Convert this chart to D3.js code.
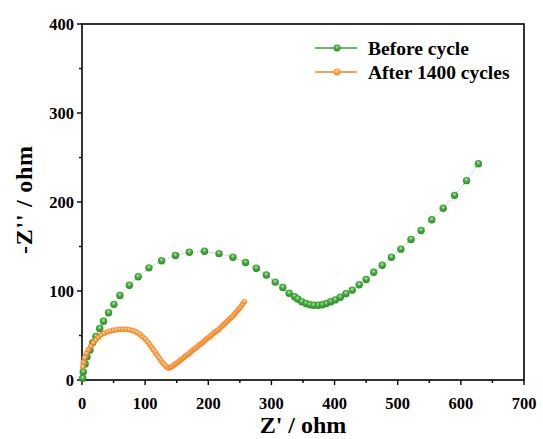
<!DOCTYPE html>
<html><head><meta charset="utf-8">
<script src="https://cdn.jsdelivr.net/npm/d3@7"></script>
<style>body{margin:0;background:#fff}svg{display:block}</style>
</head><body>
<svg id="chart" width="543" height="439"></svg>
<script>
// ---- data ----
const seriesNames = ["Before cycle", "After 1400 cycles"];
const xTicks = [0, 100, 200, 300, 400, 500, 600, 700];
const yTicks = [0, 100, 200, 300, 400];
const beforeZre = [1,2,5,8,12.6,17,22,28,34,42,50.5,60,75,89,106,126,148,170,194,217,239,259,276,292,306,318,328,336.6,341.6,348,355,361,367,374,380.6,387,394,401,409,418,428,439,450,462,475.5,490,505,521,537,554,572,590,609,627.7];
const beforeZim = [2,9,18,26,33.6,42,49,58,66,75.5,85,95,106.5,116,126,134,140,143.5,144.7,142,138,132,125.6,118,110,104,97.5,93.5,91,88,86,84.5,84,84,84.5,86,88,90,93,97,101,107,113,121,129,138,147,158,168,180,193,207.5,224,243];
const afterZre = [1,2,4,7,10,14,18,22,26,30,35,40,45,50,55,60,65,70,75,80,84,88,92,96,100,104,107,110,113,116,119,122,125,128,131,134,137,140,143,146,149,152,155,158,161,164,167,170,173,176,179,182,185,188,191,194,197,200,203,206,209,212,215,218,221,224,227,230,233,236,239,242,245,248,251,254,257];
const afterZim = [15,20,25,30,34,38,42,45,48,50.5,52.5,54,55,56,56.5,57,57,57,56.5,55.5,54.5,53,51,48.5,46,43,40,37,34,31,28,25,22,19,17,15,13.5,14,15.5,17,18.5,20,22,23.5,25,27,28.5,30,32,34,35.5,37,39,40.5,42,44,46,47.5,49,51,53,54.5,56,58,60,62,64,66,68,70,72,74.5,77,79.5,82,85,88];

const svg = d3.select("#chart");
const W = 543, H = 439;
const m = {left: 82, right: 19, top: 24, bottom: 59};
const x = d3.scaleLinear().domain([0, 700]).range([m.left, W - m.right]);
const y = d3.scaleLinear().domain([0, 400]).range([H - m.bottom, m.top]);
const font = "'Liberation Serif','Times New Roman',serif";

const defs = svg.append("defs");
function grad(id, light, mid, dark) {
  const g = defs.append("radialGradient").attr("id", id)
    .attr("cx", "45%").attr("cy", "40%").attr("r", "60%").attr("fx", "50%").attr("fy", "35%");
  g.append("stop").attr("offset", "0%").attr("stop-color", light);
  g.append("stop").attr("offset", "45%").attr("stop-color", mid);
  g.append("stop").attr("offset", "100%").attr("stop-color", dark);
}
grad("gGreen", "#b8f0ac", "#45ac3c", "#2a8a28");
grad("gOrange", "#ffe6c8", "#ffab5c", "#f47d10");

const before = beforeZre.map((v, i) => [v, beforeZim[i]]);
const after = afterZre.map((v, i) => [v, afterZim[i]]);
const line = d3.line().x(d => x(d[0])).y(d => y(d[1]));

// frame
svg.append("rect").attr("x", m.left).attr("y", m.top)
  .attr("width", W - m.left - m.right).attr("height", H - m.top - m.bottom)
  .attr("fill", "none").attr("stroke", "#000").attr("stroke-width", 1.6);

// x axis
const xMinor = d3.range(0, 701, 50);
const xa = svg.append("g").attr("transform", `translate(0,${H - m.bottom})`);
xa.selectAll("line.t").data(xMinor).join("line")
  .attr("x1", d => x(d)).attr("x2", d => x(d)).attr("y1", 0)
  .attr("y2", d => d % 100 === 0 ? 5 : 3).attr("stroke", "#000").attr("stroke-width", 1.4);
xa.selectAll("text").data(xTicks).join("text")
  .attr("x", d => x(d)).attr("y", 29).attr("text-anchor", "middle")
  .attr("font-family", font).attr("font-weight", "bold").attr("font-size", 16.5).text(d => d);

// y axis
const yMinor = d3.range(0, 401, 50);
const ya = svg.append("g").attr("transform", `translate(${m.left},0)`);
ya.selectAll("line.t").data(yMinor).join("line")
  .attr("y1", d => y(d)).attr("y2", d => y(d)).attr("x1", 0)
  .attr("x2", d => d % 100 === 0 ? -5 : -3).attr("stroke", "#000").attr("stroke-width", 1.4);
ya.selectAll("text").data(yTicks).join("text")
  .attr("x", -8).attr("y", d => y(d) + 5.5).attr("text-anchor", "end")
  .attr("font-family", font).attr("font-weight", "bold").attr("font-size", 16.5).text(d => d);

// axis titles
svg.append("text").attr("x", 303).attr("y", 433).attr("text-anchor", "middle")
  .attr("font-family", font).attr("font-weight", "bold").attr("font-size", 24).text("Z' / ohm");
svg.append("text").attr("transform", `translate(32,200) rotate(-90)`).attr("text-anchor", "middle")
  .attr("font-family", font).attr("font-weight", "bold").attr("font-size", 24)
  .attr("textLength", 108).attr("lengthAdjust", "spacing").text("-Z'' / ohm");

// series
const plot = svg.append("g");
plot.append("path").datum(before).attr("d", line).attr("fill", "none")
  .attr("stroke", "#6aa86a").attr("stroke-width", 0.9).attr("stroke-dasharray", "1,2");
plot.selectAll("circle.b").data(before).join("circle").attr("class", "b")
  .attr("cx", d => x(d[0])).attr("cy", d => y(d[1])).attr("r", 3.7).attr("fill", "url(#gGreen)");
plot.append("path").datum(after).attr("d", line).attr("fill", "none")
  .attr("stroke", "#f5a050").attr("stroke-width", 0.8).attr("stroke-dasharray", "1,2");
plot.selectAll("circle.a").data(after).join("circle").attr("class", "a")
  .attr("cx", d => x(d[0])).attr("cy", d => y(d[1])).attr("r", 2.5)
  .attr("fill", "url(#gOrange)").attr("stroke", "#f58220").attr("stroke-width", 0.6);

// legend
const leg = svg.append("g");
const legItems = [
  {name: seriesNames[0], color: "#3aa035", fill: "url(#gGreen)", y: 48},
  {name: seriesNames[1], color: "#f5821f", fill: "url(#gOrange)", y: 72}
];
legItems.forEach(it => {
  leg.append("line").attr("x1", 315).attr("x2", 357).attr("y1", it.y).attr("y2", it.y)
    .attr("stroke", it.color).attr("stroke-width", 1.6);
  leg.append("circle").attr("cx", 337).attr("cy", it.y).attr("r", 3.4).attr("fill", it.fill);
  leg.append("text").attr("x", 368).attr("y", it.y + 6.5)
    .attr("font-family", font).attr("font-weight", "bold").attr("font-size", 19.5).text(it.name);
});
</script>
</body></html>
